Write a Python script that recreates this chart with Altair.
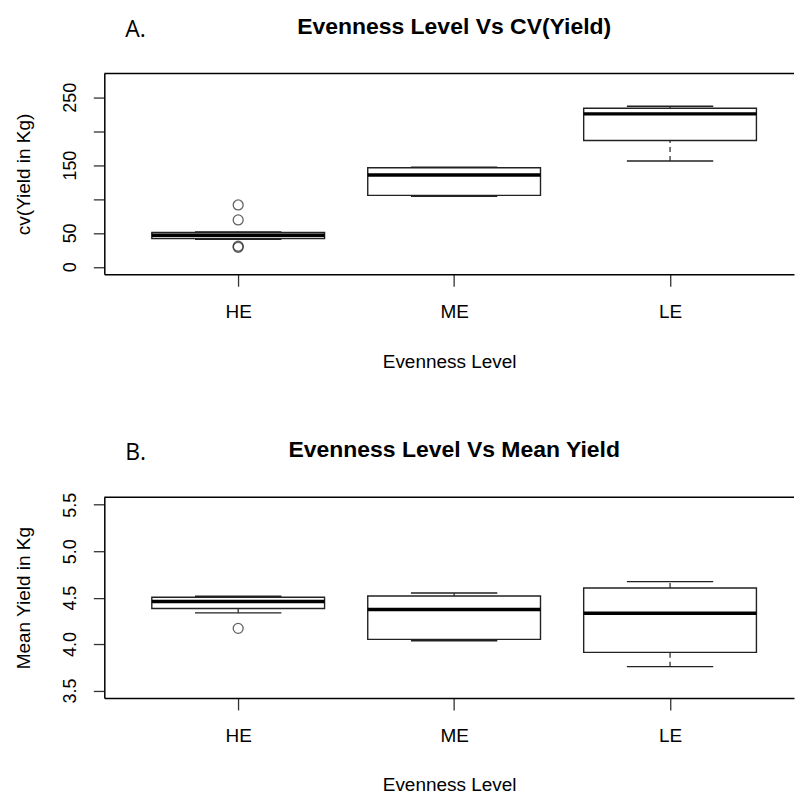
import altair as alt
import pandas as pd

# ---------------- data ----------------
groups = ["HE", "ME", "LE"]
positions = [1, 2, 3]

# Panel A: CV of yield
cv_lower = [40.5, 104.0, 156.0]
cv_q1 = [41.8, 105.4, 186.3]
cv_median = [46.6, 135.3, 225.6]
cv_q3 = [50.6, 146.2, 233.8]
cv_upper = [51.5, 147.0, 236.8]
cv_out_pos = [1, 1, 1, 1]
cv_out_value = [91.2, 69.1, 30.4, 28.8]
cv_ticks = [0, 50, 100, 150, 200, 250]

# Panel B: mean yield
my_lower = [4.336, 4.036, 3.757]
my_q1 = [4.383, 4.051, 3.911]
my_median = [4.458, 4.372, 4.333]
my_q3 = [4.504, 4.518, 4.604]
my_upper = [4.514, 4.550, 4.672]
my_out_pos = [1]
my_out_value = [4.169]
my_ticks = [3.5, 4.0, 4.5, 5.0, 5.5]

W = 691
H = 201
FONT = "Liberation Sans"


def panel(lower, q1, med, q3, upper, out_pos, out_val, ydomain, yticks,
          ylabel_expr, ytitle, title, letter):
    stats = pd.DataFrame({"group": groups, "pos": positions, "lower": lower,
                          "q1": q1, "median": med, "q3": q3, "upper": upper})
    outs = pd.DataFrame({"pos": out_pos, "value": out_val})

    xs = alt.Scale(domain=[0.38, 3.574], nice=False, zero=False)
    ys = alt.Scale(domain=ydomain, nice=False, zero=False)

    x_axis = alt.Axis(values=[1, 2, 3],
                      labelExpr="datum.value == 1 ? 'HE' : datum.value == 2 ? 'ME' : 'LE'",
                      title="Evenness Level", grid=False,
                      domainColor="black", domainWidth=1.5,
                      tickColor="#333", tickWidth=1.3, tickSize=12,
                      labelFont=FONT, labelFontSize=19, labelColor="black",
                      labelBaseline="alphabetic", labelPadding=31.7,
                      labelFlush=False,
                      titleFont=FONT, titleFontSize=19, titleFontWeight="normal",
                      titleColor="black", titleY=93, titleBaseline="alphabetic")
    y_axis = alt.Axis(values=yticks, labelExpr=ylabel_expr, title=ytitle,
                      grid=False, domainColor="black", domainWidth=1.5,
                      tickColor="#333", tickWidth=1.3, tickSize=11,
                      labelFont=FONT, labelFontSize=18, labelColor="black",
                      labelAngle=270, labelAlign="center",
                      labelBaseline="alphabetic", labelPadding=18,
                      labelOverlap=False, labelFlush=False,
                      titleFont=FONT, titleFontSize=19, titleFontWeight="normal",
                      titleColor="black", titleX=-74.5, titleY=H / 2,
                      titleAlign="center", titleBaseline="alphabetic",
                      titleAngle=270)

    def X(field):
        return alt.X(field, scale=xs, axis=x_axis)

    def Y(field):
        return alt.Y(field, scale=ys, axis=y_axis)

    base = alt.Chart(stats).transform_calculate(
        xl="datum.pos - 0.4", xr="datum.pos + 0.4",
        cl="datum.pos - 0.2", cr="datum.pos + 0.2")

    whisk_hi = base.mark_rule(color="#222", strokeWidth=1.2, strokeDash=[5, 4]).encode(
        x=X("pos:Q"), y=Y("q3:Q"), y2="upper:Q")
    whisk_lo = base.mark_rule(color="#222", strokeWidth=1.2, strokeDash=[5, 4]).encode(
        x=X("pos:Q"), y=Y("lower:Q"), y2="q1:Q")
    box = base.mark_rect(fill="white", stroke="#222", strokeWidth=1.4).encode(
        x=X("xl:Q"), x2="xr:Q", y=Y("q1:Q"), y2="q3:Q")
    cap_hi = base.mark_rule(color="#222", strokeWidth=1.4).encode(
        x=X("cl:Q"), x2="cr:Q", y=Y("upper:Q"))
    cap_lo = base.mark_rule(color="#222", strokeWidth=1.4).encode(
        x=X("cl:Q"), x2="cr:Q", y=Y("lower:Q"))
    median = base.mark_rule(color="black", strokeWidth=3.5).encode(
        x=X("xl:Q"), x2="xr:Q", y=Y("median:Q"))
    points = alt.Chart(outs).mark_point(shape="circle", filled=False,
                                        color="#222", strokeWidth=1.3,
                                        size=100).encode(
        x=X("pos:Q"), y=Y("value:Q"))

    label_df = pd.DataFrame({"t": [title], "l": [letter]})
    top_rule = alt.Chart(label_df).mark_rule(color="black", strokeWidth=1.5).encode(
        x=alt.value(0), x2=alt.value(W), y=alt.value(0))
    title_mark = alt.Chart(label_df).mark_text(
        font=FONT, fontSize=23, fontWeight="bold", color="black",
        align="center", baseline="alphabetic").encode(
        text="t:N", x=alt.value(350.5), y=alt.value(-40))
    letter_mark = alt.Chart(label_df).mark_text(
        font="Open Sans", fontSize=23, color="black",
        align="left", baseline="alphabetic").encode(
        text="l:N", x=alt.value(21), y=alt.value(-37))

    return alt.layer(whisk_hi, whisk_lo, box, cap_hi, cap_lo, median, points,
                     top_rule, title_mark, letter_mark).properties(width=W, height=H)


panel_a = panel(cv_lower, cv_q1, cv_median, cv_q3, cv_upper, cv_out_pos,
                cv_out_value, [-11, 285], cv_ticks,
                "(datum.value == 100 || datum.value == 200) ? '' : datum.label",
                "cv(Yield in Kg)", "Evenness Level Vs CV(Yield)", "A.")
panel_b = panel(my_lower, my_q1, my_median, my_q3, my_upper, my_out_pos,
                my_out_value, [3.42, 5.58], my_ticks,
                "format(datum.value, '.1f')",
                "Mean Yield in Kg", "Evenness Level Vs Mean Yield", "B.")

chart = alt.vconcat(panel_a, panel_b, spacing=223.5, bounds="flush").configure_view(
    stroke=None).properties(
    padding={"left": 14.5, "top": 15, "right": 0, "bottom": 0},
    background="white")

chart.save("out.html", embed_options={"renderer": "svg", "actions": False})
